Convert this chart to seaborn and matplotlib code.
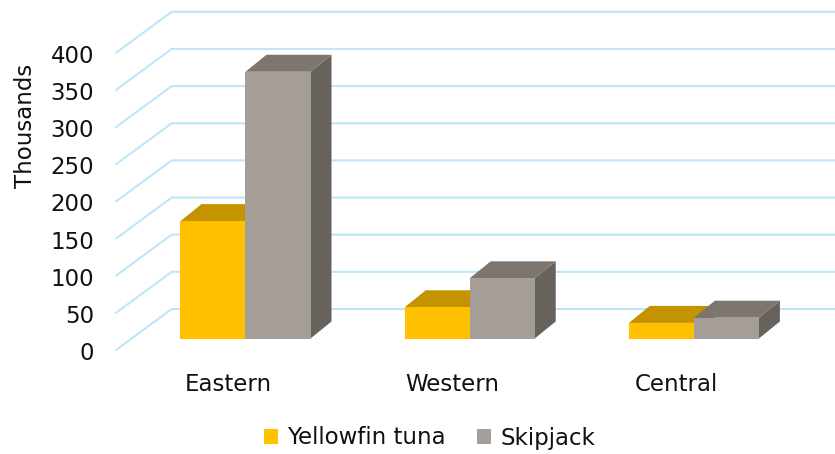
import matplotlib
matplotlib.use("Agg")
import matplotlib.pyplot as plt
from matplotlib.patches import Polygon
from matplotlib.transforms import ScaledTranslation
import seaborn as sns
import pandas as pd

# Catch by region (thousands)
regions = ["Eastern", "Western", "Central"]
species = ["Yellowfin tuna", "Skipjack"]
yellowfin = [158, 42, 21]
skipjack = [359, 81, 28]
y_ticks = [0, 50, 100, 150, 200, 250, 300, 350, 400]

front_colors = {"Yellowfin tuna": "#FFC000", "Skipjack": "#A59D97"}
top_colors = {"Yellowfin tuna": "#C49300", "Skipjack": "#7C766F"}
side_colors = {"Yellowfin tuna": "#A07800", "Skipjack": "#68625D"}
grid_color = "#BEE6F8"
text_color = "#111111"
fs = 16.5

df = pd.DataFrame({
    "Region": regions * 2,
    "Species": [species[0]] * len(regions) + [species[1]] * len(regions),
    "Catch": yellowfin + skipjack,
})

sns.set_style("white")
plt.rcParams["font.family"] = ["DejaVu Sans"]

W, H, DPI = 835, 454, 100
fig = plt.figure(figsize=(W / DPI, H / DPI), dpi=DPI)

# Geometry of the plane the bar fronts sit in (pixels)
x_left_px = 131.6
unit_x_px = 224.2
xlim = (-0.508, 2.5)
base_px = 338.5
unit_y_px = 297.2 / 400
ylim = (0, 400)

ax = fig.add_axes([
    x_left_px / W,
    (H - base_px) / H,
    (xlim[1] - xlim[0]) * unit_x_px / W,
    (ylim[1] - ylim[0]) * unit_y_px / H,
])

sns.barplot(data=df, x="Region", y="Catch", hue="Species", order=regions,
            hue_order=species, palette=front_colors, width=0.58,
            errorbar=None, linewidth=0, saturation=1, ax=ax)
ax.set_xlim(xlim)
ax.set_ylim(ylim)


def px(dx, dy):
    """Convert a pixel offset into data units."""
    return dx / unit_x_px, dy / unit_y_px


# Depth: bar thickness, front wall and back wall offsets
bdx, bdy = px(21, 17)
fdx, fdy = px(-15.6, -11.5)
kdx, kdy = px(40.1, 29.5)

# Side-wall diagonals and back-wall gridlines
x_wall = xlim[0]
x_end = xlim[0] + (W - x_left_px) / unit_x_px
for v in y_ticks:
    ax.plot([x_wall + fdx, x_wall + kdx, x_end], [v + fdy, v + kdy, v + kdy],
            color=grid_color, lw=1.5, zorder=1, clip_on=False,
            solid_joinstyle="miter")

# Extruded top and side faces for every bar
for k, (sp, cont) in enumerate(zip(species, ax.containers)):
    z = 2 + k
    for bar in cont:
        x0, w, h = bar.get_x(), bar.get_width(), bar.get_height()
        bar.set_zorder(z + 0.2)
        bar.set_clip_on(False)
        side = Polygon([(x0 + w, 0), (x0 + w + bdx, bdy),
                        (x0 + w + bdx, h + bdy), (x0 + w, h)],
                       closed=True, fc=side_colors[sp], ec="none",
                       zorder=z, clip_on=False)
        top = Polygon([(x0, h), (x0 + w, h), (x0 + w + bdx, h + bdy),
                       (x0 + bdx, h + bdy)],
                      closed=True, fc=top_colors[sp], ec="none",
                      zorder=z + 0.1, clip_on=False)
        ax.add_patch(side)
        ax.add_patch(top)

for s in ax.spines.values():
    s.set_visible(False)

ax.set_yticks(y_ticks)
ax.tick_params(axis="y", length=0, pad=27, labelsize=fs, labelcolor=text_color)
ax.tick_params(axis="x", length=0, pad=24.5, labelsize=fs, labelcolor=text_color)
ax.set_xlabel("")

# Labels sit on the front edge of the floor
shift_y = ScaledTranslation(0, -12.5 / DPI, fig.dpi_scale_trans)
for lab in ax.get_yticklabels():
    lab.set_transform(lab.get_transform() + shift_y)
shift_x = ScaledTranslation(-17.2 / DPI, 0, fig.dpi_scale_trans)
for lab in ax.get_xticklabels():
    lab.set_transform(lab.get_transform() + shift_x)

ax.set_ylabel("Thousands", fontsize=fs, color=text_color)
ax.yaxis.set_label_coords((37 - x_left_px) / ax.bbox.width,
                          (base_px - 125.5) / ax.bbox.height)

sns.move_legend(ax, "center", bbox_to_anchor=(429.5 / W, 1 - 438 / H),
                bbox_transform=fig.transFigure, ncol=2, frameon=False,
                title=None, fontsize=fs, handlelength=0.63, handleheight=0.63,
                handletextpad=0.4, columnspacing=1.35, labelcolor=text_color)

fig.savefig("out.png", dpi=DPI)
